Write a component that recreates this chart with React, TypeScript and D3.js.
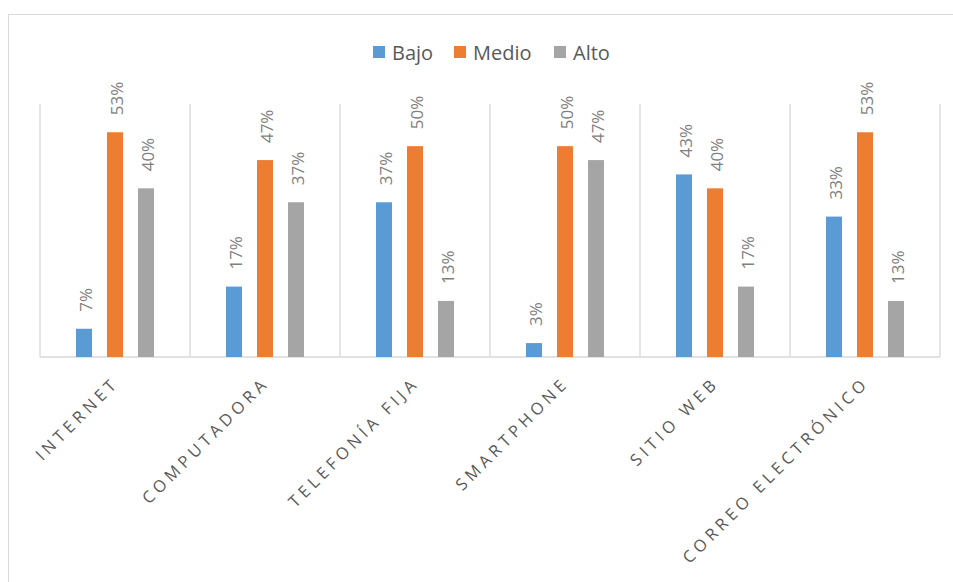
import * as React from 'react'
import * as d3 from 'd3'

const categories = ['INTERNET', 'COMPUTADORA', 'TELEFONÍA FIJA', 'SMARTPHONE', 'SITIO WEB', 'CORREO ELECTRÓNICO']
const seriesNames = ['Bajo', 'Medio', 'Alto']
const bajo = [0.067, 0.167, 0.367, 0.033, 0.433, 0.333]
const medio = [0.533, 0.467, 0.5, 0.5, 0.4, 0.533]
const alto = [0.4, 0.367, 0.133, 0.467, 0.167, 0.133]
const colors = ['#5b9bd5', '#ed7d31', '#a5a5a5']

const W = 953
const H = 582
const FONT = '"Open Sans", sans-serif'

export default function App() {
  const values = [bajo, medio, alto]

  const x = d3.scaleBand<string>().domain(categories).range([40, 940])
  const inner = d3.scaleBand<string>().domain(seriesNames).range([-46.5, 46.5])
  const y = d3.scaleLinear().domain([0, 0.6]).range([357, 104])
  const barW = 16
  const pct = d3.format('.0%')

  // category separators (vertical gridlines)
  const gridXs = categories.map(c => x(c)!).concat([x.range()[1]])

  // legend layout
  const legendItems = [
    { name: 'Bajo', sx: 373, tx: 392 },
    { name: 'Medio', sx: 454, tx: 473 },
    { name: 'Alto', sx: 554, tx: 573 },
  ]

  return (
    <svg width={W} height={H} style={{ position: 'absolute', left: 0, top: 0 }}>
      <rect x={0} y={0} width={W} height={H} fill="#fff" />
      <rect x={8.5} y={14.5} width={1200} height={1200} fill="#fff" stroke="#d9d9d9" strokeWidth={1} />

      {/* legend */}
      <g fontFamily={FONT} fontSize={20} fill="#595959">
        {legendItems.map((l, i) => (
          <g key={l.name}>
            <rect x={l.sx} y={46} width={12} height={12} fill={colors[i]} />
            <text x={l.tx} y={59.5}>{l.name}</text>
          </g>
        ))}
      </g>

      {/* gridlines */}
      <g stroke="#d9d9d9" strokeWidth={1.3}>
        {gridXs.map((gx, i) => (
          <line key={i} x1={gx} x2={gx} y1={y(0.6)} y2={y(0)} />
        ))}
        <line x1={x.range()[0]} x2={x.range()[1]} y1={y(0)} y2={y(0)} />
      </g>

      {/* bars */}
      {categories.map((c, ci) => {
        const cx = x(c)! + x.bandwidth() / 2
        return (
          <g key={c}>
            {seriesNames.map((s, si) => {
              const v = values[si][ci]
              const bx = cx + inner(s)! + inner.bandwidth() / 2
              const top = y(v)
              return (
                <g key={s}>
                  <rect x={bx - barW / 2} y={top} width={barW} height={y(0) - top} fill={colors[si]} />
                  <text
                    transform={`translate(${bx + 1.5},${top - 17}) rotate(-90)`}
                    dy="0.36em"
                    fontFamily={FONT}
                    fontSize={17}
                    fill="#7f7f7f"
                  >
                    {pct(v)}
                  </text>
                </g>
              )
            })}
          </g>
        )
      })}

      {/* category labels */}
      <g fontFamily={FONT} fontSize={16.5} fill="#595959" letterSpacing={4.2}>
        {categories.map(c => {
          const cx = x(c)! + x.bandwidth() / 2
          return (
            <text key={c} transform={`translate(${cx + 5},${384}) rotate(-45)`} textAnchor="end">
              {c}
            </text>
          )
        })}
      </g>
    </svg>
  )
}
